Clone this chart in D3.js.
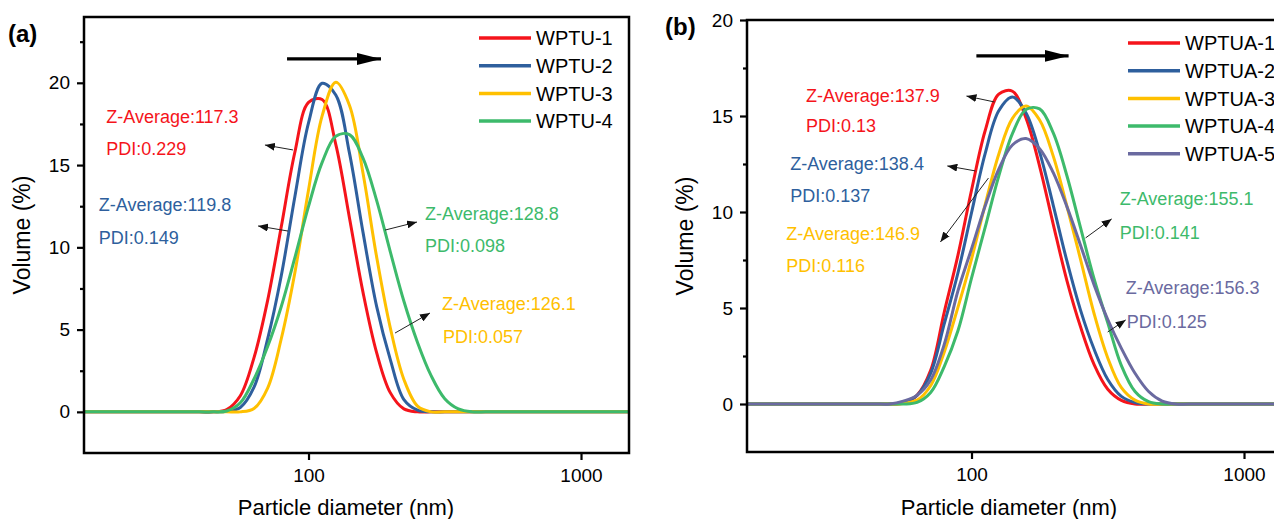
<!DOCTYPE html>
<html>
<head>
<meta charset="utf-8">
<script src="https://cdn.jsdelivr.net/npm/d3@7"></script>
<style>
  body { margin: 0; background: #fff; }
  svg { display: block; }
</style>
</head>
<body>
<svg id="chart" width="1274" height="519"></svg>
<script>
// particle size bins (nm) shared by every curve
const sizeBins = [15, 39.8, 44.7, 50.1, 56.2, 63.1, 70.8, 79.4, 89.1, 100, 112.2, 125.9, 141.3,
  158.5, 177.8, 199.5, 223.9, 251.2, 281.8, 316.2, 354.8, 398.1, 446.7, 501.2, 562.3, 631.0, 1500];

// (a) volume %
const seriesA = ["WPTU-1", "WPTU-2", "WPTU-3", "WPTU-4"];
const wptu1 = [0, 0, 0, 0.14, 0.98, 3.3, 6.78, 11.23, 15.78, 18.81, 18.99, 16.26, 11.8, 7.26, 3.6, 1.17, 0.18, 0, 0, 0, 0, 0, 0, 0, 0, 0, 0];
const wptu2 = [0, 0, 0, 0.03, 0.27, 1.5, 4.43, 8.26, 13.08, 17.56, 19.97, 19.26, 15.74, 10.91, 6.41, 3.19, 0.74, 0.1, 0, 0, 0, 0, 0, 0, 0, 0, 0];
const wptu3 = [0, 0, 0, 0, 0, 0.21, 1.45, 4.43, 8.46, 13.49, 17.99, 20.03, 18.64, 14.5, 9.42, 5.12, 1.97, 0.35, 0, 0, 0, 0, 0, 0, 0, 0, 0];
const wptu4 = [0, 0, 0, 0.05, 0.55, 2.0, 3.97, 6.39, 9.37, 12.49, 15.16, 16.75, 16.85, 15.42, 12.85, 9.74, 6.72, 4.22, 2.2, 0.8, 0.18, 0, 0, 0, 0, 0, 0];

// (b)
const seriesB = ["WPTUA-1", "WPTUA-2", "WPTUA-3", "WPTUA-4", "WPTUA-5"];
const wptua1 = [0, 0, 0, 0, 0.05, 0.45, 1.75, 4.78, 7.73, 11.13, 14.23, 16.14, 16.29, 14.89, 12.38, 9.36, 6.43, 4.02, 2.05, 0.77, 0.19, 0, 0, 0, 0, 0, 0];
const wptua2 = [0, 0, 0, 0, 0.08, 0.45, 1.6, 4.17, 6.81, 9.96, 13.04, 15.27, 15.99, 15.16, 13.12, 10.35, 7.45, 4.89, 2.85, 1.28, 0.4, 0.08, 0, 0, 0, 0, 0];
const wptua3 = [0, 0, 0, 0, 0.03, 0.2, 0.95, 2.7, 5.02, 7.55, 10.38, 13.01, 14.88, 15.52, 14.79, 12.91, 10.31, 7.53, 4.7, 2.4, 0.85, 0.2, 0, 0, 0, 0, 0];
const wptua4 = [0, 0, 0, 0, 0, 0.08, 0.6, 1.95, 3.8, 6.55, 9.2, 11.87, 14.08, 15.34, 15.37, 14.12, 11.89, 9.19, 6.51, 4.23, 2.0, 0.65, 0.12, 0, 0, 0, 0];
const wptua5 = [0, 0, 0, 0, 0.15, 0.45, 1.25, 3.1, 5.88, 8.08, 10.31, 12.23, 13.49, 13.83, 13.3, 12.05, 10.28, 8.27, 6.2, 4.4, 2.9, 1.6, 0.65, 0.15, 0, 0, 0];

// annotation texts
const notesA = ["Z-Average:117.3", "PDI:0.229", "Z-Average:119.8", "PDI:0.149",
  "Z-Average:128.8", "PDI:0.098", "Z-Average:126.1", "PDI:0.057"];
const notesB = ["Z-Average:137.9", "PDI:0.13", "Z-Average:138.4", "PDI:0.137", "Z-Average:146.9",
  "PDI:0.116", "Z-Average:155.1", "PDI:0.141", "Z-Average:156.3", "PDI:0.125"];

const xTicks = [100, 1000];

// layout (data units: [nm, %])
const noteColorA = [0, 0, 1, 1, 3, 3, 2, 2];
const notePosA = [[18.1, 17.56], [18.1, 15.61], [17.0, 12.21], [17.0, 10.2],
  [267.6, 11.66], [267.6, 9.72], [309, 6.19], [311.6, 4.19]];
const arrowsA = [[[87.7, 15.92], [69.2, 16.22]], [[84.1, 10.99], [65.3, 11.3]],
  [[190.9, 11.05], [250.1, 11.54]], [[207.7, 4.79], [279.1, 6.01]]];
const shiftA = [[83.4, 21.45], [184.5, 21.45]];

const noteColorB = [0, 0, 1, 1, 2, 2, 3, 3, 4, 4];
const notePosB = [[24.7, 15.73], [24.7, 14.17], [21.6, 12.19], [21.6, 10.52], [20.9, 8.54],
  [20.9, 6.875], [349.8, 10.36], [349.8, 8.59], [368, 5.73], [371.1, 3.96]];
const arrowsB = [[[121.4, 15.73], [95.8, 16.04]], [[103.3, 12.14], [81.5, 12.4]],
  [[115.4, 11.77], [76.9, 8.44]], [[262.2, 8.65], [326.8, 9.64]], [[316, 3.75], [368, 4.38]]];
const shiftB = [[104.2, 18.13], [227.1, 18.13]];

const colors = ["#f5141b", "#2e5f9d", "#ffc000", "#3dba6b", "#6a6aa0"];
const font = "'Liberation Sans', Arial, sans-serif";

const svg = d3.select("#chart");
svg.append("rect").attr("width", 1274).attr("height", 519).attr("fill", "#fff");
const defs = svg.append("defs");

defs.append("marker").attr("id", "tip")
    .attr("viewBox", "0 0 10 8").attr("refX", 10).attr("refY", 4)
    .attr("markerWidth", 10).attr("markerHeight", 8)
    .attr("markerUnits", "userSpaceOnUse").attr("orient", "auto")
  .append("path").attr("d", "M0,0L10,4L0,8Z").attr("fill", "#111");

defs.append("marker").attr("id", "bigTip")
    .attr("viewBox", "0 0 24 12").attr("refX", 24).attr("refY", 6)
    .attr("markerWidth", 24).attr("markerHeight", 12)
    .attr("markerUnits", "userSpaceOnUse").attr("orient", "auto")
  .append("path").attr("d", "M0,0L24,6L0,12Z").attr("fill", "#000");

function drawPanel(p) {
  let w = 545;
  let x = d3.scaleLog().domain([15, 1500]).range([p.left, p.left + w]);
  let y = d3.scaleLinear().domain(p.yDomain).range([p.bottom, p.top]);
  let g = svg.append("g").attr("font-family", font);

  defs.append("clipPath").attr("id", "clip" + p.id)
    .append("rect").attr("x", p.left).attr("y", p.top).attr("width", w).attr("height", p.bottom - p.top);

  // curves
  let line = d3.line()
      .x((d, i) => x(sizeBins[i]))
      .y(d => y(d))
      .curve(d3.curveCatmullRom.alpha(0.5));

  g.append("g").attr("clip-path", "url(#clip" + p.id + ")")
    .selectAll("path")
    .data(p.values)
    .join("path")
      .attr("d", line)
      .attr("fill", "none")
      .attr("stroke", (d, i) => colors[i])
      .attr("stroke-width", 3);

  // frame
  g.append("rect")
      .attr("x", p.left).attr("y", p.top)
      .attr("width", w).attr("height", p.bottom - p.top)
      .attr("fill", "none").attr("stroke", "#000").attr("stroke-width", 2.5);

  // y axis
  let gy = g.append("g").attr("transform", "translate(" + p.left + ",0)")
      .call(d3.axisLeft(y).tickValues(p.yTicks).tickSize(7).tickPadding(7).tickFormat(d3.format("d")));
  g.append("g").attr("transform", "translate(" + p.left + ",0)")
      .call(d3.axisLeft(y).tickValues(p.yMinor).tickSize(4).tickFormat(""))
      .call(a => a.select(".domain").remove())
      .selectAll("line").attr("stroke", "#000").attr("stroke-width", 2.2);

  // x axis
  let gx = g.append("g").attr("transform", "translate(0," + p.bottom + ")")
      .call(d3.axisBottom(x).tickValues(xTicks).tickSize(7).tickPadding(9).tickFormat(d3.format("d")));

  [gx, gy].forEach(a => {
    a.select(".domain").remove();
    a.attr("font-family", font);
    a.selectAll("line").attr("stroke", "#000").attr("stroke-width", 2.2);
    a.selectAll("text").attr("font-size", 19).attr("fill", "#000");
  });

  // axis titles
  g.append("text")
      .attr("x", p.left + 262).attr("y", 515)
      .attr("text-anchor", "middle").attr("font-size", 22)
      .text("Particle diameter (nm)");
  g.append("text")
      .attr("transform", "translate(" + (p.left - 54) + "," + ((p.top + p.bottom) / 2) + ") rotate(-90)")
      .attr("text-anchor", "middle").attr("font-size", 23)
      .text("Volume (%)");

  // panel letter
  g.append("text")
      .attr("x", p.letterX).attr("y", p.letterY)
      .attr("font-size", 24).attr("font-weight", "bold")
      .text(p.letter);

  // legend
  let leg = g.selectAll(".leg").data(p.names).join("g")
      .attr("transform", (d, i) => "translate(" + p.legX + "," + (p.legY + i * 27.7) + ")");
  leg.append("line").attr("x1", 0).attr("x2", 52)
      .attr("stroke", (d, i) => colors[i]).attr("stroke-width", 3.5);
  leg.append("text").attr("x", 57).attr("dy", "0.36em")
      .attr("font-size", 20).text(d => d);

  // shift arrow
  g.append("line")
      .attr("x1", x(p.shift[0][0])).attr("y1", y(p.shift[0][1]))
      .attr("x2", x(p.shift[1][0])).attr("y2", y(p.shift[1][1]))
      .attr("stroke", "#000").attr("stroke-width", 3.2)
      .attr("marker-end", "url(#bigTip)");

  // annotations
  g.selectAll(".note").data(p.notes).join("text")
      .attr("x", (d, i) => x(p.notePos[i][0]))
      .attr("y", (d, i) => y(p.notePos[i][1]))
      .attr("font-size", 18)
      .attr("fill", (d, i) => colors[p.noteColor[i]])
      .text(d => d);

  g.selectAll(".arw").data(p.arrows).join("line")
      .attr("x1", d => x(d[0][0])).attr("y1", d => y(d[0][1]))
      .attr("x2", d => x(d[1][0])).attr("y2", d => y(d[1][1]))
      .attr("stroke", "#222").attr("stroke-width", 1)
      .attr("marker-end", "url(#tip)");
}

drawPanel({
  id: "a", letter: "(a)", letterX: 8, letterY: 42,
  left: 84, top: 17, bottom: 453,
  yDomain: [-2.5, 24], yTicks: [0, 5, 10, 15, 20], yMinor: [2.5, 7.5, 12.5, 17.5, 22.5],
  values: [wptu1, wptu2, wptu3, wptu4], names: seriesA,
  legX: 479, legY: 38,
  notes: notesA, notePos: notePosA, noteColor: noteColorA,
  arrows: arrowsA, shift: shiftA
});

drawPanel({
  id: "b", letter: "(b)", letterX: 665, letterY: 35,
  left: 747, top: 20, bottom: 452,
  yDomain: [-2.5, 20], yTicks: [0, 5, 10, 15, 20], yMinor: [2.5, 7.5, 12.5, 17.5],
  values: [wptua1, wptua2, wptua3, wptua4, wptua5], names: seriesB,
  legX: 1128, legY: 43,
  notes: notesB, notePos: notePosB, noteColor: noteColorB,
  arrows: arrowsB, shift: shiftB
});
</script>
</body>
</html>
